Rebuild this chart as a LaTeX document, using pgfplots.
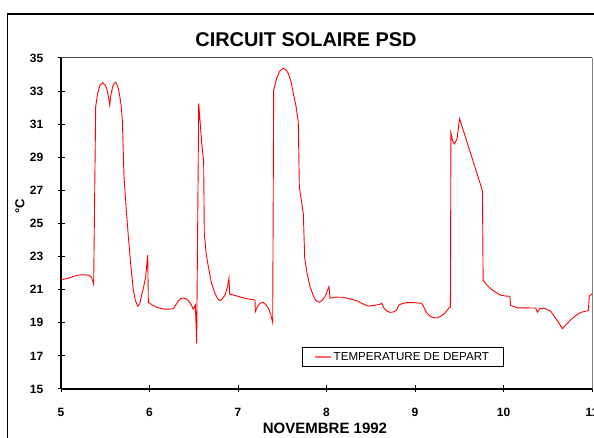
\documentclass[border=0pt]{standalone}
\usepackage{fontspec}
\setmainfont{Liberation Sans}
\usepackage{pgfplots}
\pgfplotsset{compat=1.18}
\begin{document}
\begin{tikzpicture}
\draw[line width=1.3pt] (7.3pt,-20pt) -- (7.3pt,424pt) -- (640pt,424pt);
\begin{axis}[
  at={(61pt,49pt)}, anchor=south west,
  width=531pt, height=331pt, scale only axis,
  xmin=5, xmax=11, ymin=15, ymax=35,
  xtick={5,6,7,8,9,10,11},
  ytick={15,17,19,21,23,25,27,29,31,33,35},
  axis lines=left,
  axis line style={-, line width=1.3pt, black},
  tick align=center,
  major tick length=7pt,
  tick style={line width=1pt, black},
  /pgf/number format/assume math mode=true,
  ticklabel style={font=\bfseries\fontsize{12}{12}\selectfont},
  xticklabel style={anchor=center, inner sep=0pt, yshift=-20pt},
  yticklabel style={anchor=east, inner sep=0pt, xshift=-14pt},
  legend style={at={(0.4533,0.0674)}, anchor=south west, draw=black, line width=0.8pt,
    font=\fontsize{11.6}{12}\selectfont, inner xsep=12pt, inner ysep=2.5pt,
    legend cell align=left},
  legend image code/.code={\draw[#1, line width=1.6pt, red!60] (0pt,0pt) -- (16pt,0pt);},
  clip=false,
]
\addplot[red, line width=0.9pt] coordinates {
(5.000,21.60) (5.05,21.65) (5.10,21.72) (5.15,21.82) (5.20,21.88) (5.234,21.90)
(5.28,21.90) (5.32,21.85) (5.347,21.73) (5.369,21.34) (5.392,32.06) (5.414,32.87)
(5.44,33.35) (5.471,33.51) (5.50,33.35) (5.516,33.17) (5.535,32.7) (5.55,32.16)
(5.565,32.8) (5.584,33.27) (5.60,33.48) (5.618,33.53) (5.64,33.3) (5.659,32.87)
(5.68,32.1) (5.693,31.25) (5.712,27.83) (5.735,26.0) (5.761,24.2) (5.79,22.4)
(5.817,20.98) (5.84,20.35) (5.866,20.01) (5.89,20.15) (5.911,20.68) (5.935,21.2)
(5.957,21.79) (5.98,23.1) (5.987,20.24) (6.03,20.08) (6.081,19.94) (6.13,19.87)
(6.175,19.82) (6.22,19.83) (6.269,19.85) (6.30,20.1) (6.326,20.33) (6.355,20.47)
(6.382,20.5) (6.41,20.45) (6.439,20.34) (6.47,20.1) (6.495,19.82) (6.518,20.08)
(6.533,17.76) (6.556,32.26) (6.59,29.85) (6.612,28.74) (6.619,24.41) (6.64,23.2)
(6.665,22.39) (6.70,21.4) (6.74,20.78) (6.77,20.45) (6.797,20.34) (6.825,20.45)
(6.853,20.68) (6.878,21.1) (6.898,21.69) (6.906,20.74) (7.0,20.6) (7.1,20.45)
(7.192,20.38) (7.196,19.67) (7.22,19.98) (7.249,20.18) (7.27,20.22) (7.286,20.22)
(7.315,20.1) (7.343,19.88) (7.37,19.5) (7.392,19.01) (7.403,33.07) (7.437,33.77)
(7.47,34.2) (7.512,34.38) (7.54,34.3) (7.569,34.07) (7.60,33.55) (7.625,32.87)
(7.655,32.1) (7.681,31.15) (7.693,27.22) (7.738,25.61) (7.754,22.9) (7.78,22.0)
(7.814,21.18) (7.85,20.65) (7.88,20.35) (7.919,20.24) (7.95,20.35) (7.983,20.58)
(8.028,21.18) (8.04,20.48) (8.10,20.55) (8.19,20.54) (8.26,20.45) (8.341,20.34)
(8.40,20.17) (8.473,20.01) (8.54,20.05) (8.605,20.12) (8.624,20.18) (8.65,19.88)
(8.68,19.72) (8.718,19.63) (8.76,19.66) (8.793,19.77) (8.819,20.08) (8.86,20.17)
(8.906,20.22) (8.98,20.22) (9.075,20.18) (9.10,19.95) (9.133,19.6) (9.17,19.4)
(9.21,19.3) (9.246,19.29) (9.29,19.4) (9.341,19.6) (9.391,19.95) (9.40,19.95)
(9.406,30.46) (9.425,30.0) (9.444,29.81) (9.46,29.95) (9.475,30.12) (9.504,31.33)
(9.762,26.98) (9.77,21.56) (9.81,21.3) (9.853,21.07) (9.91,20.85) (9.966,20.67)
(10.02,20.62) (10.072,20.6) (10.08,20.06) (10.156,19.9) (10.26,19.9) (10.364,19.89)
(10.383,19.64) (10.41,19.85) (10.458,19.89) (10.534,19.69) (10.60,19.2) (10.667,18.64)
(10.71,18.9) (10.761,19.19) (10.82,19.45) (10.874,19.63) (10.958,19.74) (10.97,20.61)
(11.0,20.75)
};
\addlegendentry{TEMPERATURE DE DEPART}
\draw[line width=1pt, black!75] (rel axis cs:0,1) -- (rel axis cs:1,1);
\draw[line width=1pt, black!50] (rel axis cs:1,1) -- (rel axis cs:1,0);
\end{axis}
\node[font=\bfseries\fontsize{19.9}{21}\selectfont] at (306pt,398pt) {CIRCUIT SOLAIRE PSD};
\node[font=\bfseries\fontsize{15}{16}\selectfont] at (325pt,10pt) {NOVEMBRE 1992};
\node[font=\bfseries\fontsize{13}{14}\selectfont, rotate=90] at (20pt,232pt) {°C};
\pgfresetboundingbox
\path (0pt,0pt) rectangle (594pt,438pt);
\end{tikzpicture}
\end{document}
